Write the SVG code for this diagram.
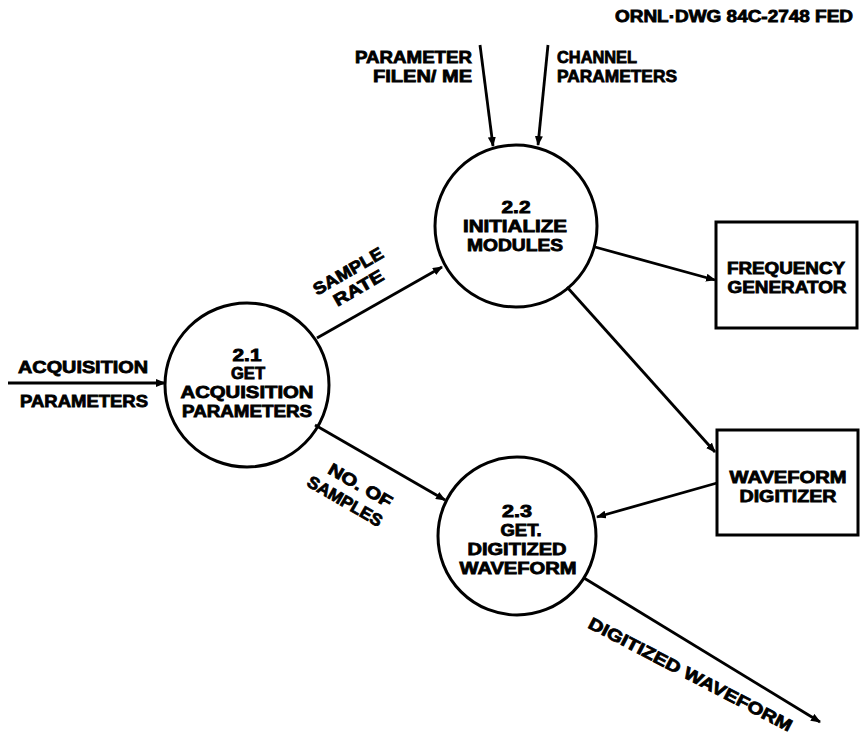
<svg xmlns="http://www.w3.org/2000/svg" width="860" height="734" viewBox="0 0 860 734">
<defs>
<style>
text{font-family:"Liberation Sans",Arial,sans-serif;font-weight:bold;fill:#000;stroke:#000;stroke-width:0.8}
.c{text-anchor:middle;font-size:16px}
.l{font-size:17px}
.shape{fill:none;stroke:#000;stroke-width:3}
.conn line{stroke:#000;stroke-width:2.8;fill:none;marker-end:url(#ah)}
</style>
<marker id="ah" viewBox="0 0 10 8" refX="9" refY="4" markerWidth="10" markerHeight="8" markerUnits="userSpaceOnUse" orient="auto">
<path d="M0,0 L10,4 L0,8 z" fill="#000"/>
</marker>
</defs>
<rect width="860" height="734" fill="#fff"/>

<text id="title" x="615" y="22" font-size="16" textLength="238" lengthAdjust="spacingAndGlyphs">ORNL·DWG 84C-2748 FED</text>

<g id="connectors" class="conn">
<line x1="8" y1="383" x2="165" y2="383"/>
<line x1="480" y1="45" x2="493" y2="146"/>
<line x1="548" y1="45" x2="538" y2="145"/>
<line x1="317" y1="338" x2="442" y2="267"/>
<line x1="315" y1="425" x2="445" y2="500"/>
<line x1="595" y1="247" x2="715" y2="280"/>
<line x1="567" y1="287" x2="715" y2="452"/>
<line x1="717" y1="483" x2="597" y2="517"/>
<line x1="584" y1="578" x2="820" y2="722"/>
</g>

<g id="labels">
<text class="l" x="18" y="373" textLength="130" lengthAdjust="spacingAndGlyphs">ACQUISITION</text>
<text class="l" x="20" y="407" textLength="128" lengthAdjust="spacingAndGlyphs">PARAMETERS</text>
<text class="l" x="355" y="63" textLength="117" lengthAdjust="spacingAndGlyphs">PARAMETER</text>
<text class="l" x="373" y="82" textLength="99" lengthAdjust="spacingAndGlyphs">FILEN/ ME</text>
<text class="l" x="557" y="63" textLength="80" lengthAdjust="spacingAndGlyphs">CHANNEL</text>
<text class="l" x="557" y="82" textLength="120" lengthAdjust="spacingAndGlyphs">PARAMETERS</text>
<g transform="translate(348 271) rotate(-30)"><text class="l" x="-39" y="6" textLength="78" lengthAdjust="spacingAndGlyphs">SAMPLE</text></g>
<g transform="translate(358 288) rotate(-30)"><text class="l" x="-27" y="6" textLength="55" lengthAdjust="spacingAndGlyphs">RATE</text></g>
<g transform="translate(360 485) rotate(30)"><text class="l" x="-35" y="6" textLength="71" lengthAdjust="spacingAndGlyphs">NO. OF</text></g>
<g transform="translate(345 501) rotate(30)"><text class="l" x="-42" y="6" textLength="84" lengthAdjust="spacingAndGlyphs">SAMPLES</text></g>
<g transform="translate(690 674) rotate(27.5)"><text class="l" x="-113" y="6" textLength="227" lengthAdjust="spacingAndGlyphs">DIGITIZED WAVEFORM</text></g>
</g>

<g id="p21">
<circle class="shape" cx="247" cy="385" r="82"/>
<text class="c" x="247" y="361" textLength="29" lengthAdjust="spacingAndGlyphs">2.1</text>
<text class="c" x="248" y="379" textLength="34" lengthAdjust="spacingAndGlyphs">GET</text>
<text class="c" x="247" y="398" textLength="133" lengthAdjust="spacingAndGlyphs">ACQUISITION</text>
<text class="c" x="247" y="417" textLength="130" lengthAdjust="spacingAndGlyphs">PARAMETERS</text>
</g>

<g id="p22">
<circle class="shape" cx="516" cy="226" r="81"/>
<text class="c" x="516" y="213" textLength="29" lengthAdjust="spacingAndGlyphs">2.2</text>
<text class="c" x="515" y="232" textLength="104" lengthAdjust="spacingAndGlyphs">INITIALIZE</text>
<text class="c" x="515" y="251" textLength="96" lengthAdjust="spacingAndGlyphs">MODULES</text>
</g>

<g id="p23">
<circle class="shape" cx="517" cy="536" r="79"/>
<text class="c" x="517" y="517" textLength="30" lengthAdjust="spacingAndGlyphs">2.3</text>
<text class="c" x="521" y="536" textLength="41" lengthAdjust="spacingAndGlyphs">GET.</text>
<text class="c" x="517" y="555" textLength="99" lengthAdjust="spacingAndGlyphs">DIGITIZED</text>
<text class="c" x="518" y="574" textLength="117" lengthAdjust="spacingAndGlyphs">WAVEFORM</text>
</g>

<g id="freqgen">
<rect class="shape" x="716" y="222" width="141" height="106"/>
<text class="c" x="786" y="274" textLength="118" lengthAdjust="spacingAndGlyphs">FREQUENCY</text>
<text class="c" x="787" y="293" textLength="119" lengthAdjust="spacingAndGlyphs">GENERATOR</text>
</g>

<g id="digitizer">
<rect class="shape" x="717" y="430" width="141" height="105"/>
<text class="c" x="788" y="483" textLength="117" lengthAdjust="spacingAndGlyphs">WAVEFORM</text>
<text class="c" x="788" y="502" textLength="97" lengthAdjust="spacingAndGlyphs">DIGITIZER</text>
</g>
</svg>
